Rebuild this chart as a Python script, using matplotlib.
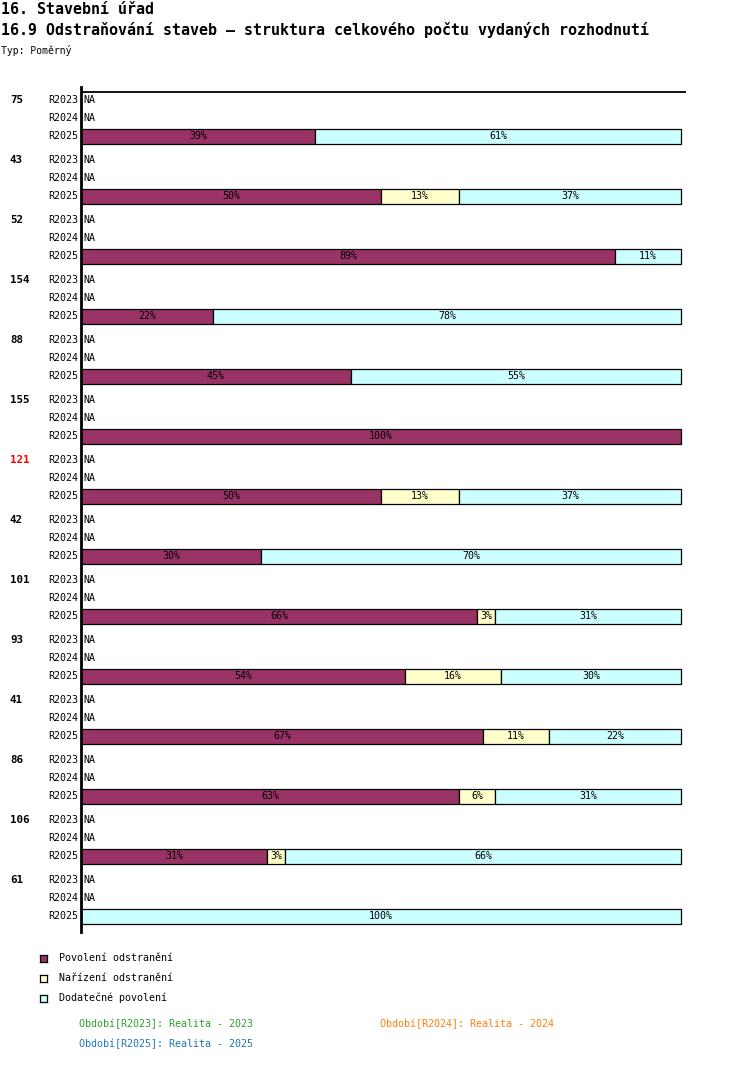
import matplotlib
matplotlib.use("Agg")
import matplotlib.pyplot as plt
import numpy as np

# data
totals = ["75", "43", "52", "154", "88", "155", "121", "42", "101", "93", "41", "86", "106", "61"]
periods = ["R2023", "R2024", "R2025"]
series_names = ["Povolení odstranění", "Nařízení odstranění", "Dodatečné povolení"]
povoleni = [39, 50, 89, 22, 45, 100, 50, 30, 66, 54, 67, 63, 31, 0]
narizeni = [0, 13, 0, 0, 0, 0, 13, 0, 3, 16, 11, 6, 3, 0]
dodatecne = [61, 37, 11, 78, 55, 0, 37, 70, 31, 30, 22, 31, 66, 100]
highlight = "121"
footer = [("Období[R2023]: Realita - 2023", "#2ca02c"),
          ("Období[R2024]: Realita - 2024", "#ff7f0e"),
          ("Období[R2025]: Realita - 2025", "#1f77b4")]

colors = ["#993366", "#ffffcc", "#ccffff"]
MONO = "DejaVu Sans Mono"
W, H = 750, 1082

fig = plt.figure(figsize=(W / 100, H / 100), dpi=100)

def px(x, y):
    return x / W, 1 - y / H

# axes in pixel layout: x 81..686, y 87..932
ax_l, ax_r, ax_t, ax_b = 81, 686, 87, 932
ax = fig.add_axes([ax_l / W, 1 - ax_b / H, (ax_r - ax_l) / W, (ax_b - ax_t) / H])
ax.set_xlim(0, 100 * (ax_r - ax_l) / 600)
ax.set_ylim(ax_b - 100, ax_t - 100)
for s in ["top", "right", "bottom"]:
    ax.spines[s].set_visible(False)
ax.spines["left"].set_linewidth(2)
ax.set_xticks([])
ax.set_yticks([])
ax.axhline(-8, color="black", lw=1.3)

data = np.array([povoleni, narizeni, dodatecne], dtype=float)
for g, tot in enumerate(totals):
    base = g * 60
    ax.text(-71 / 6.0, base, tot, ha="left", va="center", fontsize=7.8, fontweight="bold",
            family=MONO, color="red" if tot == highlight else "black")
    for s, p in enumerate(periods):
        y = base + s * 18
        ax.text(-0.5, y, p, ha="right", va="center", fontsize=7.2, family=MONO)
        if s < 2:
            ax.text(0.4, y, "NA", ha="left", va="center", fontsize=7.2, family=MONO)
            continue
        left = 0.0
        for k in range(3):
            v = data[k, g]
            if v <= 0:
                continue
            ax.barh(y, v, left=left, height=15, color=colors[k], edgecolor="black", linewidth=0.9)
            ax.text(left + v / 2, y, f"{int(v)}%", ha="center", va="center", fontsize=7.2, family=MONO)
            left += v

# titles
fig.text(*px(1, 9), "16. Stavební úřad", fontsize=10.8, fontweight="bold", family=MONO, va="center")
fig.text(*px(1, 30), "16.9 Odstraňování staveb – struktura celkového počtu vydaných rozhodnutí",
         fontsize=10.8, fontweight="bold", family=MONO, va="center")
fig.text(*px(1, 50), "Typ: Poměrný", fontsize=7, family=MONO, va="center")

# legend
for i, name in enumerate(series_names):
    yy = 958 + i * 20
    sq = fig.add_axes([40 / W, 1 - (yy + 4) / H, 7 / W, 7 / H])
    sq.set_facecolor(colors[i])
    sq.set_xticks([])
    sq.set_yticks([])
    for sp in sq.spines.values():
        sp.set_linewidth(0.9)
    fig.text(*px(59, yy), name, fontsize=7.2, family=MONO, va="center")

fx = [79, 380, 79]
fy = [1024, 1024, 1044]
for (txt, col), x, y in zip(footer, fx, fy):
    fig.text(*px(x, y), txt, fontsize=7.2, family=MONO, va="center", color=col)

fig.savefig("out.png", dpi=100)
